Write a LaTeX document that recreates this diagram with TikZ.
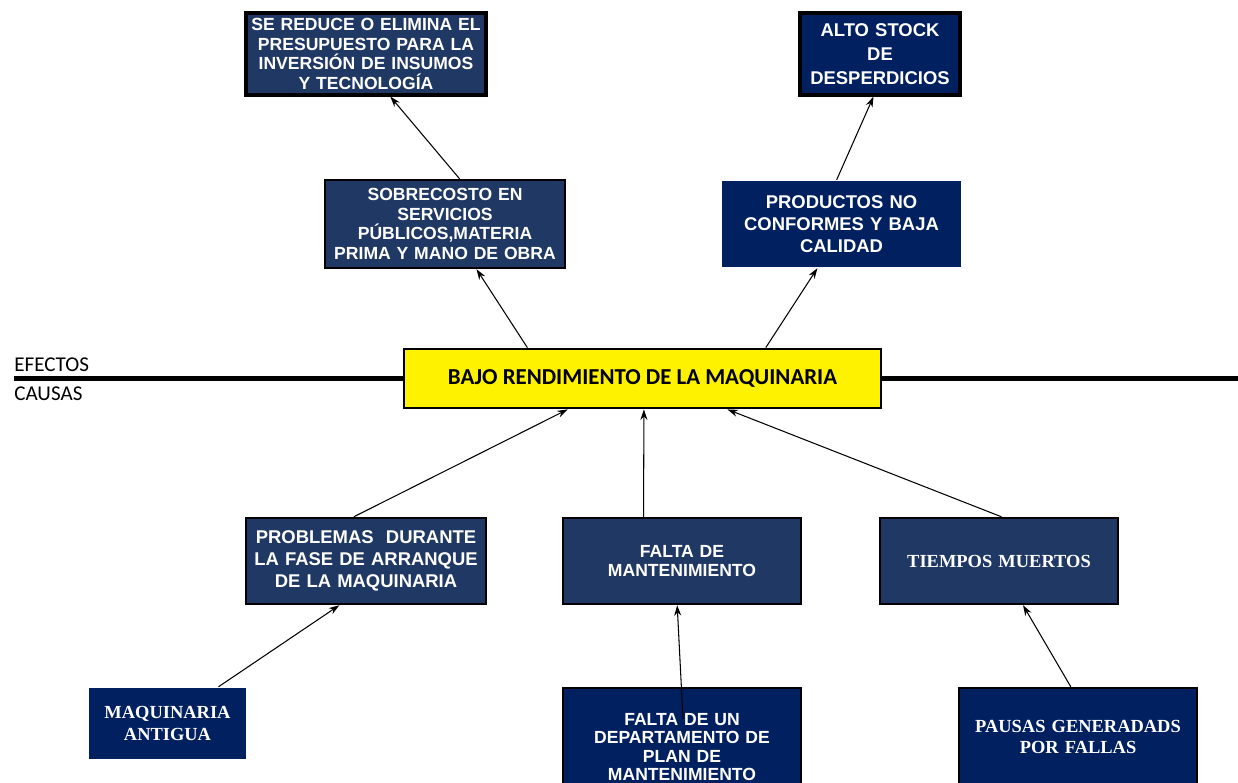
\documentclass[tikz,border=0pt]{standalone}
\usepackage{fontspec}
\usetikzlibrary{arrows.meta,calc}
\newfontfamily\boxsans{Liberation Sans}
\newfontfamily\boxserif{Liberation Serif}
\newfontfamily\calib{Carlito}
\definecolor{navyA}{RGB}{32,56,100}
\definecolor{navyB}{RGB}{0,32,96}
\tikzset{
  causebox/.style={fill=navyA,draw=black,line width=1.4pt,text=white,align=center,inner sep=0pt,font=\boxsans\bfseries\fontsize{10}{11.2}\selectfont},
  darkbox/.style={causebox,fill=navyB},
  plainbox/.style={causebox,fill=navyB,draw=none},
  serifbox/.style={font=\boxserif\bfseries\fontsize{10.5}{12.5}\selectfont},
  link/.style={-{Stealth[length=6pt,width=4pt]},line width=0.6pt}
}
\begin{document}
\begin{tikzpicture}
[x=0.02cm,y=-0.02cm]
\useasboundingbox (0,0) rectangle (1238,783);
\clip (0,0) rectangle (1238,783);

% main problem and axis
\node[draw=black,fill=yellow,line width=1.6pt,minimum width=9.54cm,minimum height=1.18cm,font=\calib\bfseries\fontsize{13}{15}\selectfont] (bajo) at (642.5,378.5) {BAJO RENDIMIENTO DE LA MAQUINARIA};
\coordinate (axisL) at (14,378.5);
\coordinate (axisR) at (1238,378.5);
\draw[line width=2.6pt] (axisL) -- (bajo.west);
\draw[line width=2.6pt] (bajo.east) -- (axisR);
\node[anchor=west,inner sep=0pt,font=\calib\fontsize{12}{14}\selectfont] (efectos) at (14,365) {EFECTOS};
\node[anchor=west,inner sep=0pt,font=\calib\fontsize{12}{14}\selectfont] (causas) at (14,394) {CAUSAS};

% efectos
\node[causebox,minimum width=4.8cm,minimum height=1.64cm,text width=4.7cm,line width=1.8pt] (sered) at (366,54) {SE REDUCE O ELIMINA EL\\PRESUPUESTO PARA LA\\INVERSIÓN DE INSUMOS\\Y TECNOLOGÍA};
\node[darkbox,minimum width=3.2cm,minimum height=1.64cm,text width=3.1cm,line width=1.8pt,font=\boxsans\bfseries\fontsize{10.5}{13.5}\selectfont] (alto) at (880,54) {ALTO STOCK\\DE\\DESPERDICIOS};
\node[causebox,minimum width=4.8cm,minimum height=1.76cm,text width=4.7cm] (sobre) at (445,224) {SOBRECOSTO EN\\SERVICIOS\\PÚBLICOS,MATERIA\\PRIMA Y MANO DE OBRA};
\node[plainbox,minimum width=4.78cm,minimum height=1.72cm,text width=4.6cm,font=\boxsans\bfseries\fontsize{10.5}{12.6}\selectfont] (prod) at (841.5,224) {PRODUCTOS NO\\CONFORMES Y BAJA\\CALIDAD};

% causas
\node[causebox,minimum width=4.8cm,minimum height=1.72cm,text width=4.7cm,font=\boxsans\bfseries\fontsize{10.5}{12.6}\selectfont] (prob) at (366,561) {PROBLEMAS \ DURANTE\\LA FASE DE ARRANQUE\\DE LA MAQUINARIA};
\node[causebox,minimum width=4.76cm,minimum height=1.72cm,text width=4.6cm] (falta) at (682,561) {FALTA DE\\MANTENIMIENTO};
\node[causebox,serifbox,minimum width=4.76cm,minimum height=1.72cm,text width=4.6cm] (tiempos) at (999,561) {TIEMPOS MUERTOS};
\node[plainbox,serifbox,minimum width=3.14cm,minimum height=1.42cm,text width=3cm] (maq) at (167.5,723.5) {MAQUINARIA\\ANTIGUA};
\node[darkbox,minimum width=4.76cm,minimum height=2.36cm,text width=4.6cm,font=\boxsans\bfseries\fontsize{10}{10.4}\selectfont] (fdu) at (682,747) {FALTA DE UN\\DEPARTAMENTO DE\\PLAN DE\\MANTENIMIENTO};
\node[darkbox,serifbox,minimum width=4.76cm,minimum height=1.96cm,text width=4.6cm] (pausas) at (1078,737) {PAUSAS GENERADADS\\POR FALLAS};

% flechas
\draw[link] ($(sobre.north west)!0.56!(sobre.north east)$) -- ($(sered.south west)!0.6!(sered.south east)$);
\draw[link] ($(bajo.north west)!0.26!(bajo.north east)$) -- ($(sobre.south west)!0.63!(sobre.south east)$);
\draw[link] ($(bajo.north west)!0.757!(bajo.north east)$) -- ($(prod.south west)!0.4!(prod.south east)$);
\draw[link] ($(prod.north west)!0.48!(prod.north east)$) -- ($(alto.south west)!0.46!(alto.south east)$);
\draw[link] ($(prob.north west)!0.45!(prob.north east)$) -- ($(bajo.south west)!0.344!(bajo.south east)$);
\draw[link] ($(falta.north west)!0.34!(falta.north east)$) -- ($(bajo.south west)!0.503!(bajo.south east)$);
\draw[link] ($(tiempos.north west)!0.51!(tiempos.north east)$) -- ($(bajo.south west)!0.677!(bajo.south east)$);
\draw[link] ($(maq.north west)!0.82!(maq.north east)$) -- ($(prob.south west)!0.39!(prob.south east)$);
\coordinate (fduin) at ($(fdu.north)+(1,32)$);
\draw[link] (fduin) -- ($(falta.south west)!0.48!(falta.south east)$);
\draw[link] ($(pausas.north west)!0.47!(pausas.north east)$) -- ($(tiempos.south west)!0.6!(tiempos.south east)$);
\end{tikzpicture}
\end{document}
